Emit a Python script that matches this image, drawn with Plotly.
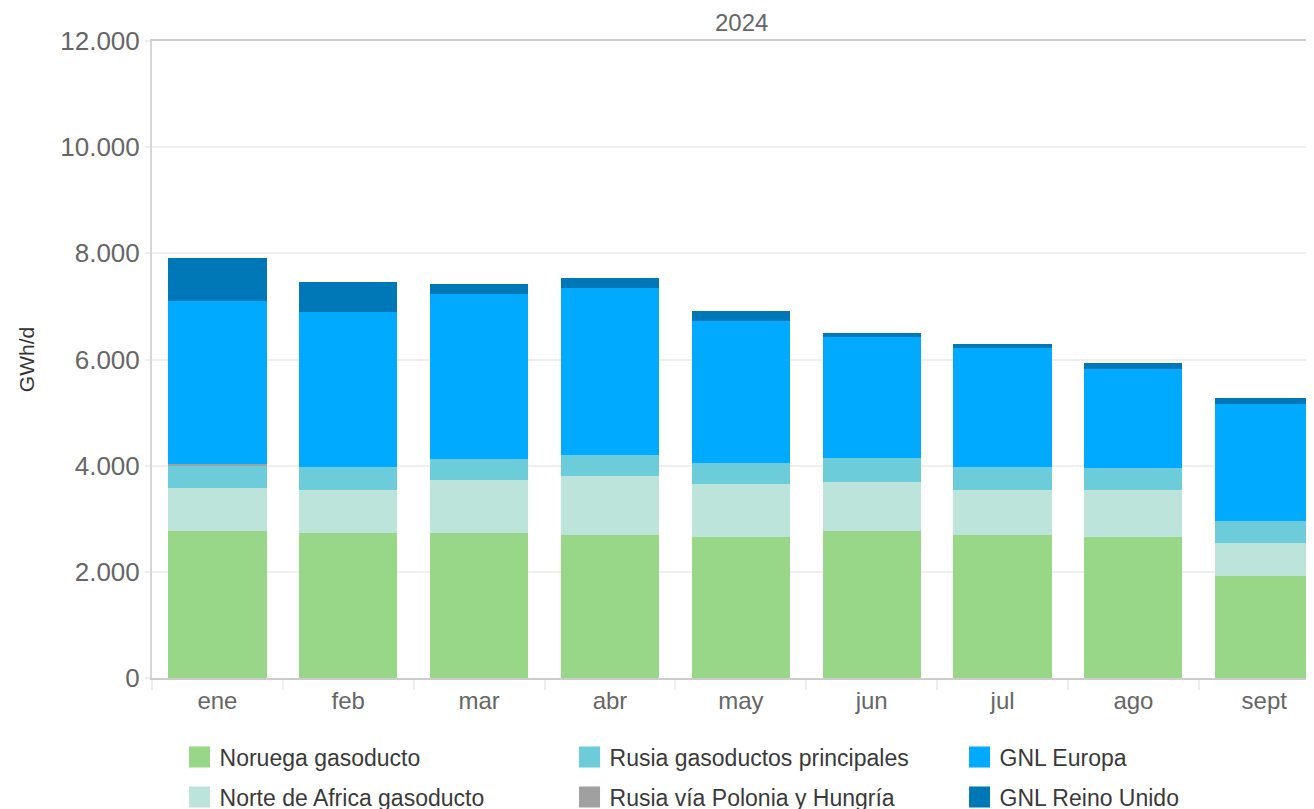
import plotly.graph_objects as go

months = ["ene", "feb", "mar", "abr", "may", "jun", "jul", "ago", "sept"]
y_ticks = [0, 2000, 4000, 6000, 8000, 10000, 12000]

noruega = [2774, 2736, 2736, 2698, 2660, 2774, 2698, 2660, 1925]
norte_africa = [811, 811, 1000, 1113, 1000, 924, 849, 887, 622]
rusia_principales = [415, 434, 396, 397, 397, 453, 434, 415, 415]
rusia_polonia = [38, 0, 0, 0, 0, 0, 0, 0, 0]
gnl_europa = [3056, 2906, 3094, 3132, 2660, 2264, 2227, 1868, 2208]
gnl_reino_unido = [812, 566, 189, 188, 189, 76, 75, 113, 113]

# name, values, colour, legend row, legend entry width
series = [
    ("Noruega gasoducto", noruega, "#98D688", "legend", 345),
    ("Norte de Africa gasoducto", norte_africa, "#BDE4DA", "legend2", 345),
    ("Rusia gasoductos principales", rusia_principales, "#6CCCDA", "legend", 345),
    ("Rusia vía Polonia y Hungría", rusia_polonia, "#A0A0A0", "legend2", 345),
    ("GNL Europa", gnl_europa, "#00AAFF", "legend", 200),
    ("GNL Reino Unido", gnl_reino_unido, "#0077B6", "legend2", 200),
]

FONT = "Liberation Sans, Arial, sans-serif"

fig = go.Figure()
for name, vals, color, leg, lw in series:
    fig.add_trace(go.Bar(
        x=months, y=vals, name=name, marker=dict(color=color, line=dict(width=0)),
        showlegend=False, legendgroup=name,
    ))
# legend swatches (larger squares than the default bar symbol)
for name, vals, color, leg, lw in series:
    fig.add_trace(go.Scatter(
        x=[None], y=[None], mode="markers", name=name, legend=leg, legendgroup=name,
        legendwidth=lw, hoverinfo="skip",
        marker=dict(symbol="square", size=16, color=color, line=dict(width=5, color=color)),
    ))

legend_common = dict(
    orientation="h", xanchor="left", yanchor="middle",
    font=dict(family=FONT, size=23, color="#3a3a3a"),
    bgcolor="rgba(0,0,0,0)", traceorder="normal",
)

fig.update_layout(
    width=1306, height=809,
    barmode="stack", bargap=0.25,
    separators=",.",
    plot_bgcolor="white", paper_bgcolor="white",
    margin=dict(l=144, r=0, t=33, b=139, autoexpand=False),
    font=dict(family=FONT, color="#666666"),
    showlegend=True,
    legend=dict(x=0.0237, y=-0.124, **legend_common),
    legend2=dict(x=0.0237, y=-0.187, **legend_common),
    xaxis=dict(
        range=[-0.5, 8.38],
        showline=True, linecolor="#cccccc", linewidth=2, mirror=True,
        ticks="outside", tickson="boundaries", ticklen=10, tickcolor="#eeeeee", tickwidth=2,
        showgrid=False,
        tickfont=dict(family=FONT, size=24, color="#666666"),
    ),
    yaxis=dict(
        range=[0, 12000],
        tickvals=y_ticks, tickformat=",d",
        showline=True, linecolor="#d6d6d6", linewidth=2,
        showgrid=True, gridcolor="#efefef", gridwidth=2,
        ticks="outside", ticklen=5, tickcolor="#eeeeee", tickwidth=2,
        tickfont=dict(family=FONT, size=26, color="#666666"),
        zeroline=False,
        title=dict(text="GWh/d", font=dict(family=FONT, size=21, color="#333333"), standoff=20),
    ),
    annotations=[dict(
        text="2024", xref="paper", yref="paper", x=0.5077, y=1.0, yanchor="bottom",
        yshift=3, showarrow=False, font=dict(family=FONT, size=24, color="#666666"),
    )],
)

fig.write_html("out.html")
